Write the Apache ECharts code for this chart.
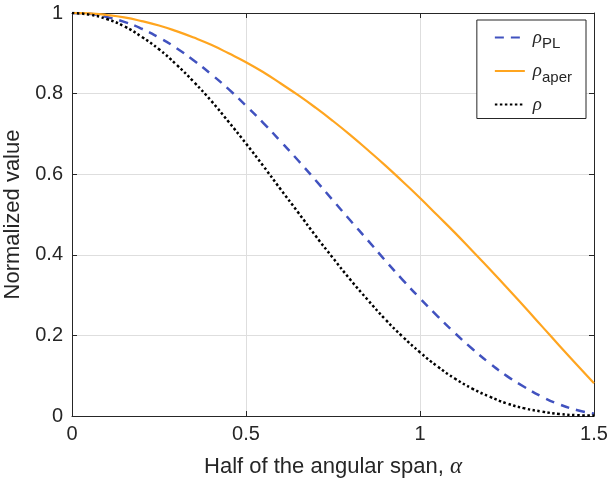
<!DOCTYPE html>
<html>
<head>
<meta charset="utf-8">
<script src="https://cdn.jsdelivr.net/npm/echarts@6/dist/echarts.min.js"></script>
<style>
  html, body { margin: 0; padding: 0; background: #fff; }
  #chart { width: 608px; height: 481px; }
</style>
</head>
<body>
<div id="chart"></div>
<script>
// half angular span (rad)
const alpha = [0, 0.05, 0.1, 0.15, 0.2, 0.25, 0.3, 0.35, 0.4, 0.45, 0.5, 0.55, 0.6, 0.65, 0.7, 0.75,
  0.8, 0.85, 0.9, 0.95, 1.0, 1.05, 1.1, 1.15, 1.2, 1.25, 1.3, 1.35, 1.4, 1.45, 1.5];

// values
const rhoPL = [1, 0.998, 0.990, 0.978, 0.961, 0.939, 0.913, 0.882, 0.848, 0.811, 0.770, 0.727, 0.681,
  0.634, 0.585, 0.535, 0.485, 0.436, 0.386, 0.338, 0.292, 0.248, 0.206, 0.167, 0.131, 0.099, 0.072,
  0.048, 0.029, 0.015, 0.006];
const rhoAper = [1, 0.999, 0.995, 0.989, 0.980, 0.969, 0.955, 0.939, 0.921, 0.900, 0.878, 0.853, 0.825,
  0.796, 0.765, 0.732, 0.697, 0.660, 0.622, 0.582, 0.541, 0.498, 0.455, 0.410, 0.365, 0.318, 0.271,
  0.223, 0.175, 0.128, 0.081];
const rho = [1, 0.996, 0.985, 0.967, 0.941, 0.910, 0.872, 0.829, 0.782, 0.730, 0.676, 0.620, 0.562,
  0.505, 0.447, 0.392, 0.338, 0.288, 0.240, 0.197, 0.158, 0.123, 0.093, 0.068, 0.048, 0.031, 0.019,
  0.011, 0.005, 0.002, 0.001];

const xTicks = [0, 0.5, 1, 1.5];
const yTicks = [0, 0.2, 0.4, 0.6, 0.8, 1];

const pairs = (ys) => alpha.map((a, i) => [a, ys[i]]);

const txt = '#262626';
const font = 'Liberation Sans, Arial, Helvetica, sans-serif';

const axisCommon = {
  type: 'value',
  axisLine: { show: true, onZero: false, lineStyle: { color: txt, width: 1 } },
  axisTick: { show: true, inside: true, length: 5, lineStyle: { color: txt } },
  splitLine: { show: false },
};

const chart = echarts.init(document.getElementById('chart'));

const option = {
  animation: false,
  backgroundColor: '#fff',
  grid: { left: 72, right: 14, top: 13, bottom: 65, containLabel: false, outerBoundsMode: 'none' },
  xAxis: [
    {
      ...axisCommon,
      position: 'bottom',
      min: 0, max: 1.5, interval: 0.5,
      splitLine: { show: true, lineStyle: { color: '#dedede', width: 1 } },
      axisLabel: { color: txt, fontSize: 20, fontFamily: font, margin: 8,
        formatter: (v) => (xTicks.includes(v) ? String(v) : '') },
      name: '{t|Half of the angular span, }{g|α}',
      nameLocation: 'middle',
      nameGap: 39,
      nameTextStyle: {
        rich: {
          t: { fontSize: 22, fontFamily: font, color: txt },
          g: { fontSize: 23, fontFamily: 'Liberation Serif, serif', fontStyle: 'italic', color: txt },
        },
      },
    },
    {
      ...axisCommon,
      position: 'top',
      min: 0, max: 1.5, interval: 0.5,
      axisLabel: { show: false },
    },
  ],
  yAxis: [
    {
      ...axisCommon,
      position: 'left',
      min: 0, max: 1, interval: 0.2,
      splitLine: { show: true, lineStyle: { color: '#dedede', width: 1 } },
      axisLabel: { color: txt, fontSize: 20, fontFamily: font, margin: 9,
        formatter: (v) => String(yTicks.find((t) => Math.abs(t - v) < 1e-9) ?? '') },
      name: 'Normalized value',
      nameLocation: 'middle',
      nameGap: 42,
      nameTextStyle: { fontSize: 22, fontFamily: font, color: txt },
    },
    {
      ...axisCommon,
      position: 'right',
      min: 0, max: 1, interval: 0.2,
      axisLabel: { show: false },
    },
  ],
  legend: {
    orient: 'vertical',
    right: 22,
    top: 20,
    padding: [8, 14, 0, 17],
    itemGap: 10,
    itemWidth: 30,
    itemHeight: 14,
    backgroundColor: '#fff',
    borderColor: txt,
    borderWidth: 1,
    borderRadius: 0,
    itemStyle: { opacity: 0 },
    formatter: (name) => {
      if (name === 'rhoPL') return '{r|ρ}{s|PL}';
      if (name === 'rhoAper') return '{r|ρ}{s|aper}';
      return '{r|ρ}{s| }';
    },
    textStyle: {
      padding: [0, 0, 0, 3],
      rich: {
        r: { fontSize: 19, fontFamily: 'Liberation Serif, serif', fontStyle: 'italic', color: txt,
          lineHeight: 28, verticalAlign: 'middle' },
        s: { fontSize: 15, fontFamily: font, color: txt, lineHeight: 15, verticalAlign: 'bottom' },
      },
    },
    data: ['rhoPL', 'rhoAper', 'rho'],
  },
  series: [
    {
      name: 'rhoPL',
      type: 'line',
      data: pairs(rhoPL),
      smooth: true,
      symbol: 'none',
      color: '#4152bf',
      lineStyle: { color: '#4152bf', width: 2.5, type: [9, 7] },
    },
    {
      name: 'rhoAper',
      type: 'line',
      data: pairs(rhoAper),
      smooth: true,
      symbol: 'none',
      color: '#ffa51f',
      lineStyle: { color: '#ffa51f', width: 2.2, type: 'solid' },
    },
    {
      name: 'rho',
      type: 'line',
      data: pairs(rho),
      smooth: true,
      symbol: 'none',
      color: '#000',
      lineStyle: { color: '#000', width: 2.5, type: [2.5, 2.5] },
    },
  ],
};

chart.setOption(option);
</script>
</body>
</html>
